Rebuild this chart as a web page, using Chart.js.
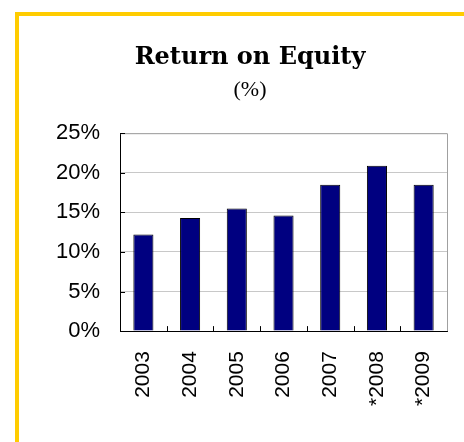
<!DOCTYPE html>
<html>
<head>
<meta charset="utf-8">
<script src="https://cdn.jsdelivr.net/npm/chart.js@4"></script>
<style>
  html, body { margin: 0; padding: 0; background: #fff; }
  #frame {
    position: absolute; left: 15px; top: 12px;
    width: 445px; height: 426px;
    border-top: 4px solid #ffcc00; border-left: 4px solid #ffcc00;
  }
</style>
</head>
<body>
<div id="frame"><canvas id="roeChart" width="445" height="426"></canvas></div>
<script>
var years = ['2003', '2004', '2005', '2006', '2007', '*2008', '*2009'];
var roeValues = [12.2, 14.3, 15.5, 14.6, 18.5, 20.9, 18.5];
var yTicks = [0, 5, 10, 15, 20, 25];

// inside tick marks + grey frame like the old spreadsheet chart
var frameTicks = {
    id: 'frameTicks',
    afterDraw: function(chart) {
        var c = chart.ctx, a = chart.chartArea;
        var x = chart.scales.x, y = chart.scales.y;
        c.save();
        c.strokeStyle = '#a0a0a0';
        c.lineWidth = 1;
        c.beginPath();
        c.moveTo(a.left, a.top + 0.5);
        c.lineTo(a.right + 0.5, a.top + 0.5);
        c.lineTo(a.right + 0.5, a.bottom);
        c.stroke();
        c.strokeStyle = '#000';
        c.beginPath();
        yTicks.forEach(function(v) {
            var py = Math.round(y.getPixelForValue(v)) + 0.5;
            c.moveTo(a.left, py);
            c.lineTo(a.left + 5, py);
        });
        for (var i = 1; i < years.length; i++) {
            var px = Math.round((x.getPixelForValue(i - 1) + x.getPixelForValue(i)) / 2) + 0.5;
            c.moveTo(px, a.bottom);
            c.lineTo(px, a.bottom - 5);
        }
        c.stroke();
        c.restore();
    }
};

var ctx = document.getElementById('roeChart').getContext('2d');
new Chart(ctx, {
    type: 'bar',
    data: {
        labels: years,
        datasets: [{
            label: 'Return on Equity',
            data: roeValues,
            backgroundColor: '#000080',
            borderColor: '#000000',
            borderWidth: 1,
            borderSkipped: 'bottom',
            barPercentage: 0.43,
            categoryPercentage: 1.0
        }]
    },
    options: {
        responsive: false,
        animation: false,
        layout: { padding: { left: 17, right: 0, top: 0, bottom: 16 } },
        plugins: {
            legend: { display: false },
            tooltip: { enabled: false },
            title: {
                display: true,
                text: 'Return on Equity',
                color: '#000',
                font: { family: 'DejaVu Serif', size: 24, weight: 'bold' },
                padding: { top: 27, bottom: 5 }
            },
            subtitle: {
                display: true,
                text: '(%)',
                color: '#000',
                font: { family: 'Liberation Serif', size: 22 },
                padding: { top: 0, bottom: 30 }
            }
        },
        scales: {
            x: {
                grid: { display: false, drawTicks: false },
                border: { color: '#000', width: 1 },
                // keep the plot right edge where the reference has it
                afterFit: function(scale) {
                    scale.paddingLeft = 0;
                    scale.paddingRight = 17;
                },
                ticks: {
                    color: '#000',
                    font: { family: 'Liberation Sans', size: 21 },
                    minRotation: 90,
                    maxRotation: 90,
                    padding: 20,
                    autoSkip: false
                }
            },
            y: {
                min: 0,
                max: 25,
                grid: { color: '#c8c8c8', drawTicks: false },
                border: { color: '#000', width: 1 },
                ticks: {
                    stepSize: 5,
                    color: '#000',
                    font: { family: 'Liberation Sans', size: 22 },
                    padding: 20,
                    callback: function(v) { return v + '%'; }
                }
            }
        }
    },
    plugins: [frameTicks]
});
</script>
</body>
</html>
